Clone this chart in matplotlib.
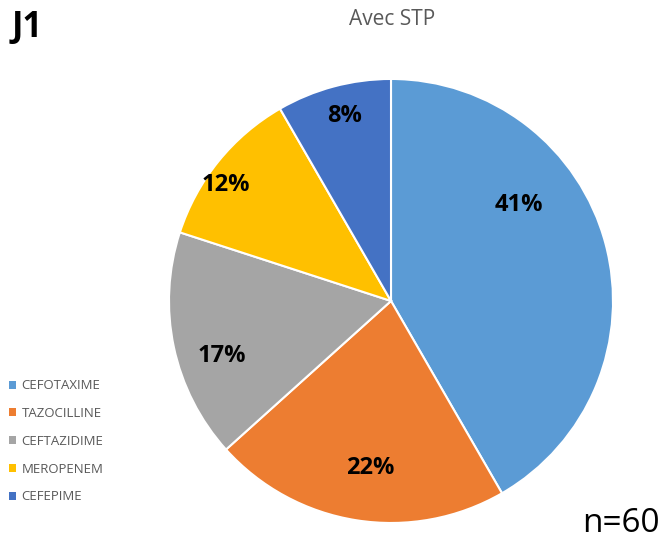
import numpy as np
import matplotlib.pyplot as plt
from matplotlib.patches import Patch

plt.rcParams['font.family'] = ['Open Sans', 'DejaVu Sans']

# --- Data ---
drugs = ['CEFOTAXIME', 'TAZOCILLINE', 'CEFTAZIDIME', 'MEROPENEM', 'CEFEPIME']
counts = [25, 13, 10, 7, 5]  # n = 60
pct_labels = ['41%', '22%', '17%', '12%', '8%']
colors = ['#5B9BD5', '#ED7D31', '#A5A5A5', '#FFC000', '#4472C4']

# label placement tweaks (Excel "best fit" style)
label_r = [0.72, 0.76, 0.80, 0.91, 0.86]
label_dtheta = [22, 2, 6, 4, -1]

fig = plt.figure(figsize=(6.63, 5.42), dpi=100)
ax = fig.add_axes([0.2549, 0.0351, 0.6697, 0.8192])

wedges, _ = ax.pie(counts, colors=colors, startangle=90, counterclock=False,
                   wedgeprops=dict(edgecolor='white', linewidth=1.5))
ax.set_xlim(-1, 1)
ax.set_ylim(-1, 1)
ax.set_aspect('equal')

for w, lab, r, dt in zip(wedges, pct_labels, label_r, label_dtheta):
    th = np.deg2rad((w.theta1 + w.theta2) / 2 + dt)
    ax.text(r * np.cos(th), r * np.sin(th), lab, ha='center', va='center',
            fontsize=17, fontweight='bold', color='black')

fig.text(0.591, 0.964, 'Avec STP', ha='center', va='center', fontsize=15, color='#595959')
fig.text(0.017, 0.949, 'J1', ha='left', va='center', fontsize=25, fontweight='bold')
fig.text(0.9955, 0.034, 'n=60', ha='right', va='center', fontsize=24)

handles = [Patch(facecolor=c, edgecolor='none') for c in colors]
fig.legend(handles, drugs, loc='upper left', bbox_to_anchor=(0.005, 0.310),
           frameon=False, fontsize=9.5, labelcolor='#595959',
           handlelength=0.55, handleheight=0.55, handletextpad=0.43,
           labelspacing=1.12, borderaxespad=0.0)

fig.savefig('out.png', dpi=100)
